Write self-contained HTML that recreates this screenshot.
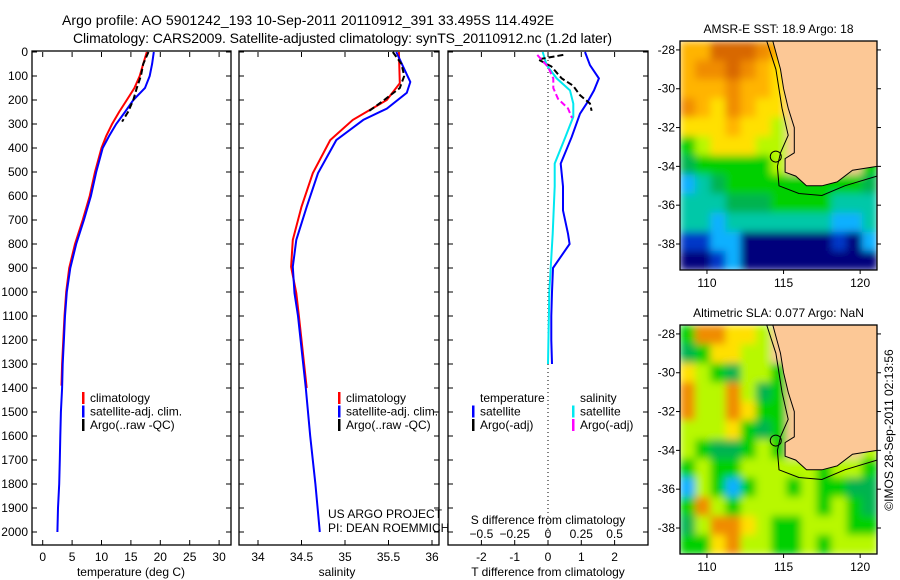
<!DOCTYPE html>
<html><head><meta charset="utf-8"><style>
body{margin:0;background:#fff;}
svg{display:block;font-family:"Liberation Sans",sans-serif;}
text{fill:#000;}
</style></head><body>
<svg id="c" width="900" height="580" viewBox="0 0 900 580" xmlns="http://www.w3.org/2000/svg">
<defs>
<filter id="blur" x="0" y="0" width="1" height="1"><feGaussianBlur stdDeviation="4" edgeMode="duplicate"/></filter>
<clipPath id="clip1"><rect x="680" y="41" width="197" height="229"/></clipPath>
<clipPath id="clip2"><rect x="680" y="325" width="197" height="229"/></clipPath>
</defs>
<text x="62" y="25" font-size="14" textLength="492">Argo profile: AO 5901242_193 10-Sep-2011 20110912_391 33.495S 114.492E</text>
<text x="73" y="43" font-size="14" textLength="539">Climatology: CARS2009. Satellite-adjusted climatology: synTS_20110912.nc (1.2d later)</text>
<g id="g"></g>
</svg>
<script>
// ---- data ----
const tempClimDepth=[0,50,100,150,200,250,300,350,400,500,600,700,800,900,1000,1100,1200,1300,1390];
const tempClim=[17.7,17.1,16.5,15.6,14.3,13.0,11.8,10.8,10.0,8.9,8.0,6.8,5.5,4.5,4.0,3.7,3.5,3.3,3.2];
const tempSatDepth=[0,50,100,150,200,250,300,350,400,500,600,700,800,900,1000,1100,1200,1300,1400,1500,1600,1700,1800,1900,2000];
const tempSat=[18.9,18.6,18.2,17.4,15.4,14.0,12.5,11.3,10.2,9.1,8.2,7.0,5.7,4.7,4.1,3.8,3.6,3.4,3.3,3.1,3.0,2.9,2.8,2.6,2.5];
const tempArgoDepth=[0,50,100,150,200,250,290];
const tempArgo=[18.0,17.1,16.7,16.0,15.4,14.5,13.5];
const salClimDepth=[0,130,200,283,367,505,645,783,895,1005,1100,1200,1300,1400];
const salClim=[35.62,35.63,35.48,35.09,34.83,34.63,34.50,34.40,34.38,34.44,34.47,34.50,34.53,34.56];
const salSatDepth=[0,125,170,236,283,367,505,645,783,895,1005,1100,1300,1400,1600,1800,2000];
const salSat=[35.59,35.75,35.71,35.48,35.21,34.90,34.69,34.56,34.44,34.40,34.42,34.46,34.52,34.55,34.60,34.66,34.71];
const salArgoDepth=[0,50,100,150,200,240,250];
const salArgo=[35.55,35.65,35.68,35.63,35.45,35.30,35.26];
const tDiffSatDepth=[0,55,110,160,215,257,355,465,560,660,757,800,900,1000,1100,1200,1300];
const tDiffSat=[1.11,1.26,1.53,1.38,1.16,0.96,0.71,0.38,0.45,0.45,0.60,0.65,0.15,0.12,0.10,0.10,0.12];
const tDiffArgoDepth=[12,31,60,110,140,180,215,245];
const tDiffArgo=[0.46,-0.3,0.1,0.41,0.75,0.96,1.26,1.31];
const sDiffSatDepth=[0,55,110,160,215,270,355,465,560,757,900,1000,1300];
const sDiffSat=[-0.04,-0.01,0.065,0.165,0.19,0.19,0.13,0.05,0.05,0.035,0.02,0.01,0.0];
const sDiffArgoDepth=[12,62,110,150,195,235,275];
const sDiffArgo=[-0.08,0.0,0.04,0.04,0.075,0.15,0.18];
const depthTicks=[0,100,200,300,400,500,600,700,800,900,1000,1100,1200,1300,1400,1500,1600,1700,1800,1900,2000];
const tempTicks=[0,5,10,15,20,25,30];
const salTicks=[34,34.5,35,35.5,36];
const tdTicks=[-2,-1,0,1,2];
const sdTicks=[-0.5,-0.25,0,0.25,0.5];
const latTicks=[28,30,32,34,36,38];
const lonTicks=[110,115,120];
const sstGrid=["iikkkjiLLLLLL","ijjkjihLLLLLL","iiijiihLLLLLL","jihjihhLLLLLL","hhhihhgLLLLLL","fghhhggLLLLLL","efffffgLLLLLf","cdefffffffffe","dddeeeffffddd","ddcdddddddccd","bbccaaaaaabac","aabcaaaaaaaaa"];
const slaGrid=["fjjhhgLLLLLLL","efhhggLLLLLLL","hgfeggfLLLLLL","jggjgefLLLLLL","jggjhffLLLLLL","ggghfefLLLLLL","gfeefgfLLLLLg","fgffgggggfggf","cgfcfggfgffee","fjgfgggggfgfe","egjjhgffgggff","ffhjggffgfggg"];
const coastLon=[114.3,114.8,115.0,115.3,115.7,115.7,115.1,115.1,115.8,116.5,117.5,118.5,119.5,121.1];
const coastLat=[27.54,29,30,31,32,33.3,33.6,34.3,34.5,35,35,34.8,34.2,34.0];
const isoLon=[113.9,114.5,114.9,115.3,114.8,114.6,114.7,116,117.5,119,121.1];
const isoLat=[27.54,29,31,32.4,33.3,34,35,35.4,35.5,35,34.5];
const argoLon=114.492, argoLat=33.495;

// ---- helpers ----
const NS="http://www.w3.org/2000/svg";
const G=document.getElementById('g');
function mk(tag,at,parent){const e=document.createElementNS(NS,tag);for(const k in at)e.setAttribute(k,at[k]);(parent||G).appendChild(e);return e;}
function txt(x,y,s,size,anchor,parent){const t=mk('text',{x:x,y:y,'font-size':size||12,'text-anchor':anchor||'start'},parent);t.textContent=s;return t;}
const yTop=52, pxPer100=24, yBot=545;
const yD=d=>yTop+d/100*pxPer100;
const panels=[{x0:32,x1:231},{x0:239,x1:439},{x0:448,x1:648}];
const xT=v=>42.7+v*5.88;
const xS=v=>258+(v-34)*87;
const xTD=v=>548+v*33.3;
const xSD=v=>548+v*133.2;

panels.forEach((p,i)=>{
  const r=mk('rect',{x:p.x0,y:yTop-1,width:p.x1-p.x0,height:yBot-yTop+1,fill:'none',stroke:'#000','stroke-width':1.3});
  
  
  depthTicks.forEach(d=>{
    mk('line',{x1:p.x0,x2:p.x0+5,y1:yD(d),y2:yD(d),stroke:'#000'});
    mk('line',{x1:p.x1-5,x2:p.x1,y1:yD(d),y2:yD(d),stroke:'#000'});
  });
});
depthTicks.forEach(d=>{
  const t=txt(28,yD(d)+4,String(d),12,'end');
  
  
});
function xticks(vals,fx,labels,ly,topTicks){
  vals.forEach(v=>{
    const x=fx(v);
    mk('line',{x1:x,x2:x,y1:yBot-5,y2:yBot,stroke:'#000'});
    if(topTicks) mk('line',{x1:x,x2:x,y1:yTop,y2:yTop+5,stroke:'#000'});
    if(labels){const t=txt(x,ly,String(v),12,'middle');
      
      }
  });
}
xticks(tempTicks,xT,true,561,true);
xticks(salTicks,xS,true,561,true);
xticks(tdTicks,xTD,true,561,true);
sdTicks.forEach(v=>{const t=txt(xSD(v),538,String(v).replace('-','\u2212'),12,'middle');
  
  });
[[131,'temperature (deg C)','x-axis-title-temperature'],[337,'salinity','x-axis-title-salinity'],[548,'T difference from climatology','x-axis-title-t-diff']].forEach(a=>{
  const t=txt(a[0],576,a[1],12,'middle');
  
  });
{const t=txt(548,524,'S difference from climatology',12,'middle');
 
 }
{const l=mk('line',{x1:xTD(0),x2:xTD(0),y1:yTop,y2:yBot,stroke:'#000','stroke-dasharray':'1,3'});
 
 }

function series(xs,ds,fx,color,name,dash){
  const pts=xs.map((v,i)=>fx(v).toFixed(1)+','+yD(ds[i]).toFixed(1)).join(' ');
  const at={points:pts,fill:'none',stroke:color,'stroke-width':2};
  if(dash) at['stroke-dasharray']=dash;
  const l=mk('polyline',at);
  
  
}
series(tempClim,tempClimDepth,xT,'#f00','temp-climatology-line');
series(tempSat,tempSatDepth,xT,'#00f','temp-satellite-line');
series(tempArgo,tempArgoDepth,xT,'#000','temp-argo-line','6,3');
series(salClim,salClimDepth,xS,'#f00','sal-climatology-line');
series(salSat,salSatDepth,xS,'#00f','sal-satellite-line');
series(salArgo,salArgoDepth,xS,'#000','sal-argo-line','6,3');
series(tDiffSat,tDiffSatDepth,xTD,'#00f','tdiff-satellite-line');
series(sDiffSat,sDiffSatDepth,xSD,'#00e8f0','sdiff-satellite-line');
series(tDiffArgo,tDiffArgoDepth,xTD,'#000','tdiff-argo-line','6,3');
series(sDiffArgo,sDiffArgoDepth,xSD,'#f0f','sdiff-argo-line','6,3');

function legend(x,y,items,name){
  items.forEach((it,i)=>{
    const yy=y+i*13.5;
    if(it[0]) mk('rect',{x:x,y:yy-6,width:2.5,height:12,fill:it[0]});
    const t=txt(x+8,yy+4,it[1],12);
    
    
  });
}
legend(82,398,[['#f00','climatology'],['#00f','satellite-adj. clim.'],['#000','Argo(..raw -QC)']],'temp-legend');
legend(338,398,[['#f00','climatology'],['#00f','satellite-adj. clim.'],['#000','Argo(..raw -QC)']],'sal-legend');
legend(472,398,[[null,'temperature'],['#00f','satellite'],['#000','Argo(-adj)']],'tdiff-legend');
legend(572,398,[[null,'salinity'],['#00e8f0','satellite'],['#f0f','Argo(-adj)']],'sdiff-legend');
{const t=txt(328,518,'US ARGO PROJECT',12);
 const u=txt(328,532,'PI: DEAN ROEMMICH',12);}

// ---- maps ----
const pal={a:'#00007c',b:'#0038c8',c:'#10b0ff',d:'#00c8a8',e:'#00b450',f:'#00d000',g:'#b8f800',h:'#ffe000',i:'#ffb400',j:'#f08c00',k:'#d86800',L:'#fcc896'};
const lon0=108.24, lon1=121.1, lat0=27.54, lat1=39.34;
function drawMap(y0,grid,title,name,clipId){
  const x0=680,x1=877,y1=y0+229;
  const fx=l=>x0+(l-lon0)/(lon1-lon0)*(x1-x0);
  const fy=l=>y0+(l-lat0)/(lat1-lat0)*(y1-y0);
  const g=mk('g',{});
  
  
  const cg=mk('g',{'clip-path':'url(#'+clipId+')'},g);
  const bg=mk('g',{filter:'url(#blur)'},cg);
  const nr=grid.length,nc=grid[0].length;
  const cw=(x1-x0)/nc,ch=(y1-y0)/nr;
  grid.forEach((row,r)=>{[...row].forEach((c,k)=>{
    mk('rect',{x:(x0+k*cw).toFixed(2),y:(y0+r*ch).toFixed(2),width:(cw+0.6).toFixed(2),height:(ch+0.6).toFixed(2),fill:pal[c]},bg);
  });});
  const lp=coastLon.map((v,i)=>fx(v).toFixed(1)+','+fy(coastLat[i]).toFixed(1)).join(' ')+' '+fx(lon1)+','+fy(lat0);
  const land=mk('polygon',{points:lp,fill:pal.L,stroke:'#000','stroke-width':1},cg);
  
  
  const iso=mk('polyline',{points:isoLon.map((v,i)=>fx(v).toFixed(1)+','+fy(isoLat[i]).toFixed(1)).join(' '),fill:'none',stroke:'#000','stroke-width':1},cg);
  
  
  const cc=mk('circle',{cx:fx(argoLon),cy:fy(argoLat),r:5.5,fill:'none',stroke:'#000','stroke-width':1},g);
  
  
  mk('rect',{x:x0,y:y0,width:x1-x0,height:y1-y0,fill:'none',stroke:'#000','stroke-width':1.3},g);
  latTicks.forEach(l=>{const y=fy(l);
    mk('line',{x1:x1,x2:x1+4,y1:y,y2:y,stroke:'#000'},g);
    mk('line',{x1:x0-4,x2:x0,y1:y,y2:y,stroke:'#000'},g);
    const t=txt(675,y+4,'-'+l,12,'end',g);
    
    });
  lonTicks.forEach(l=>{const x=fx(l);
    mk('line',{x1:x,x2:x,y1:y1,y2:y1+4,stroke:'#000'},g);
    const t=txt(x,y1+17,String(l),12,'middle',g);
    
    });
  const tt=txt((x0+x1)/2,y0-8,title,12,'middle',g);
  
  
}
drawMap(41,sstGrid,'AMSR-E SST: 18.9 Argo: 18','sst-map','clip1');
drawMap(325,slaGrid,'Altimetric SLA: 0.077 Argo: NaN','sla-map','clip2');
{const t=txt(0,0,'\u00a9IMOS 28-Sep-2011 02:13:56',12,'middle');
 t.setAttribute('transform','translate(893,430) rotate(-90)');
 
 }
</script>
</body></html>
